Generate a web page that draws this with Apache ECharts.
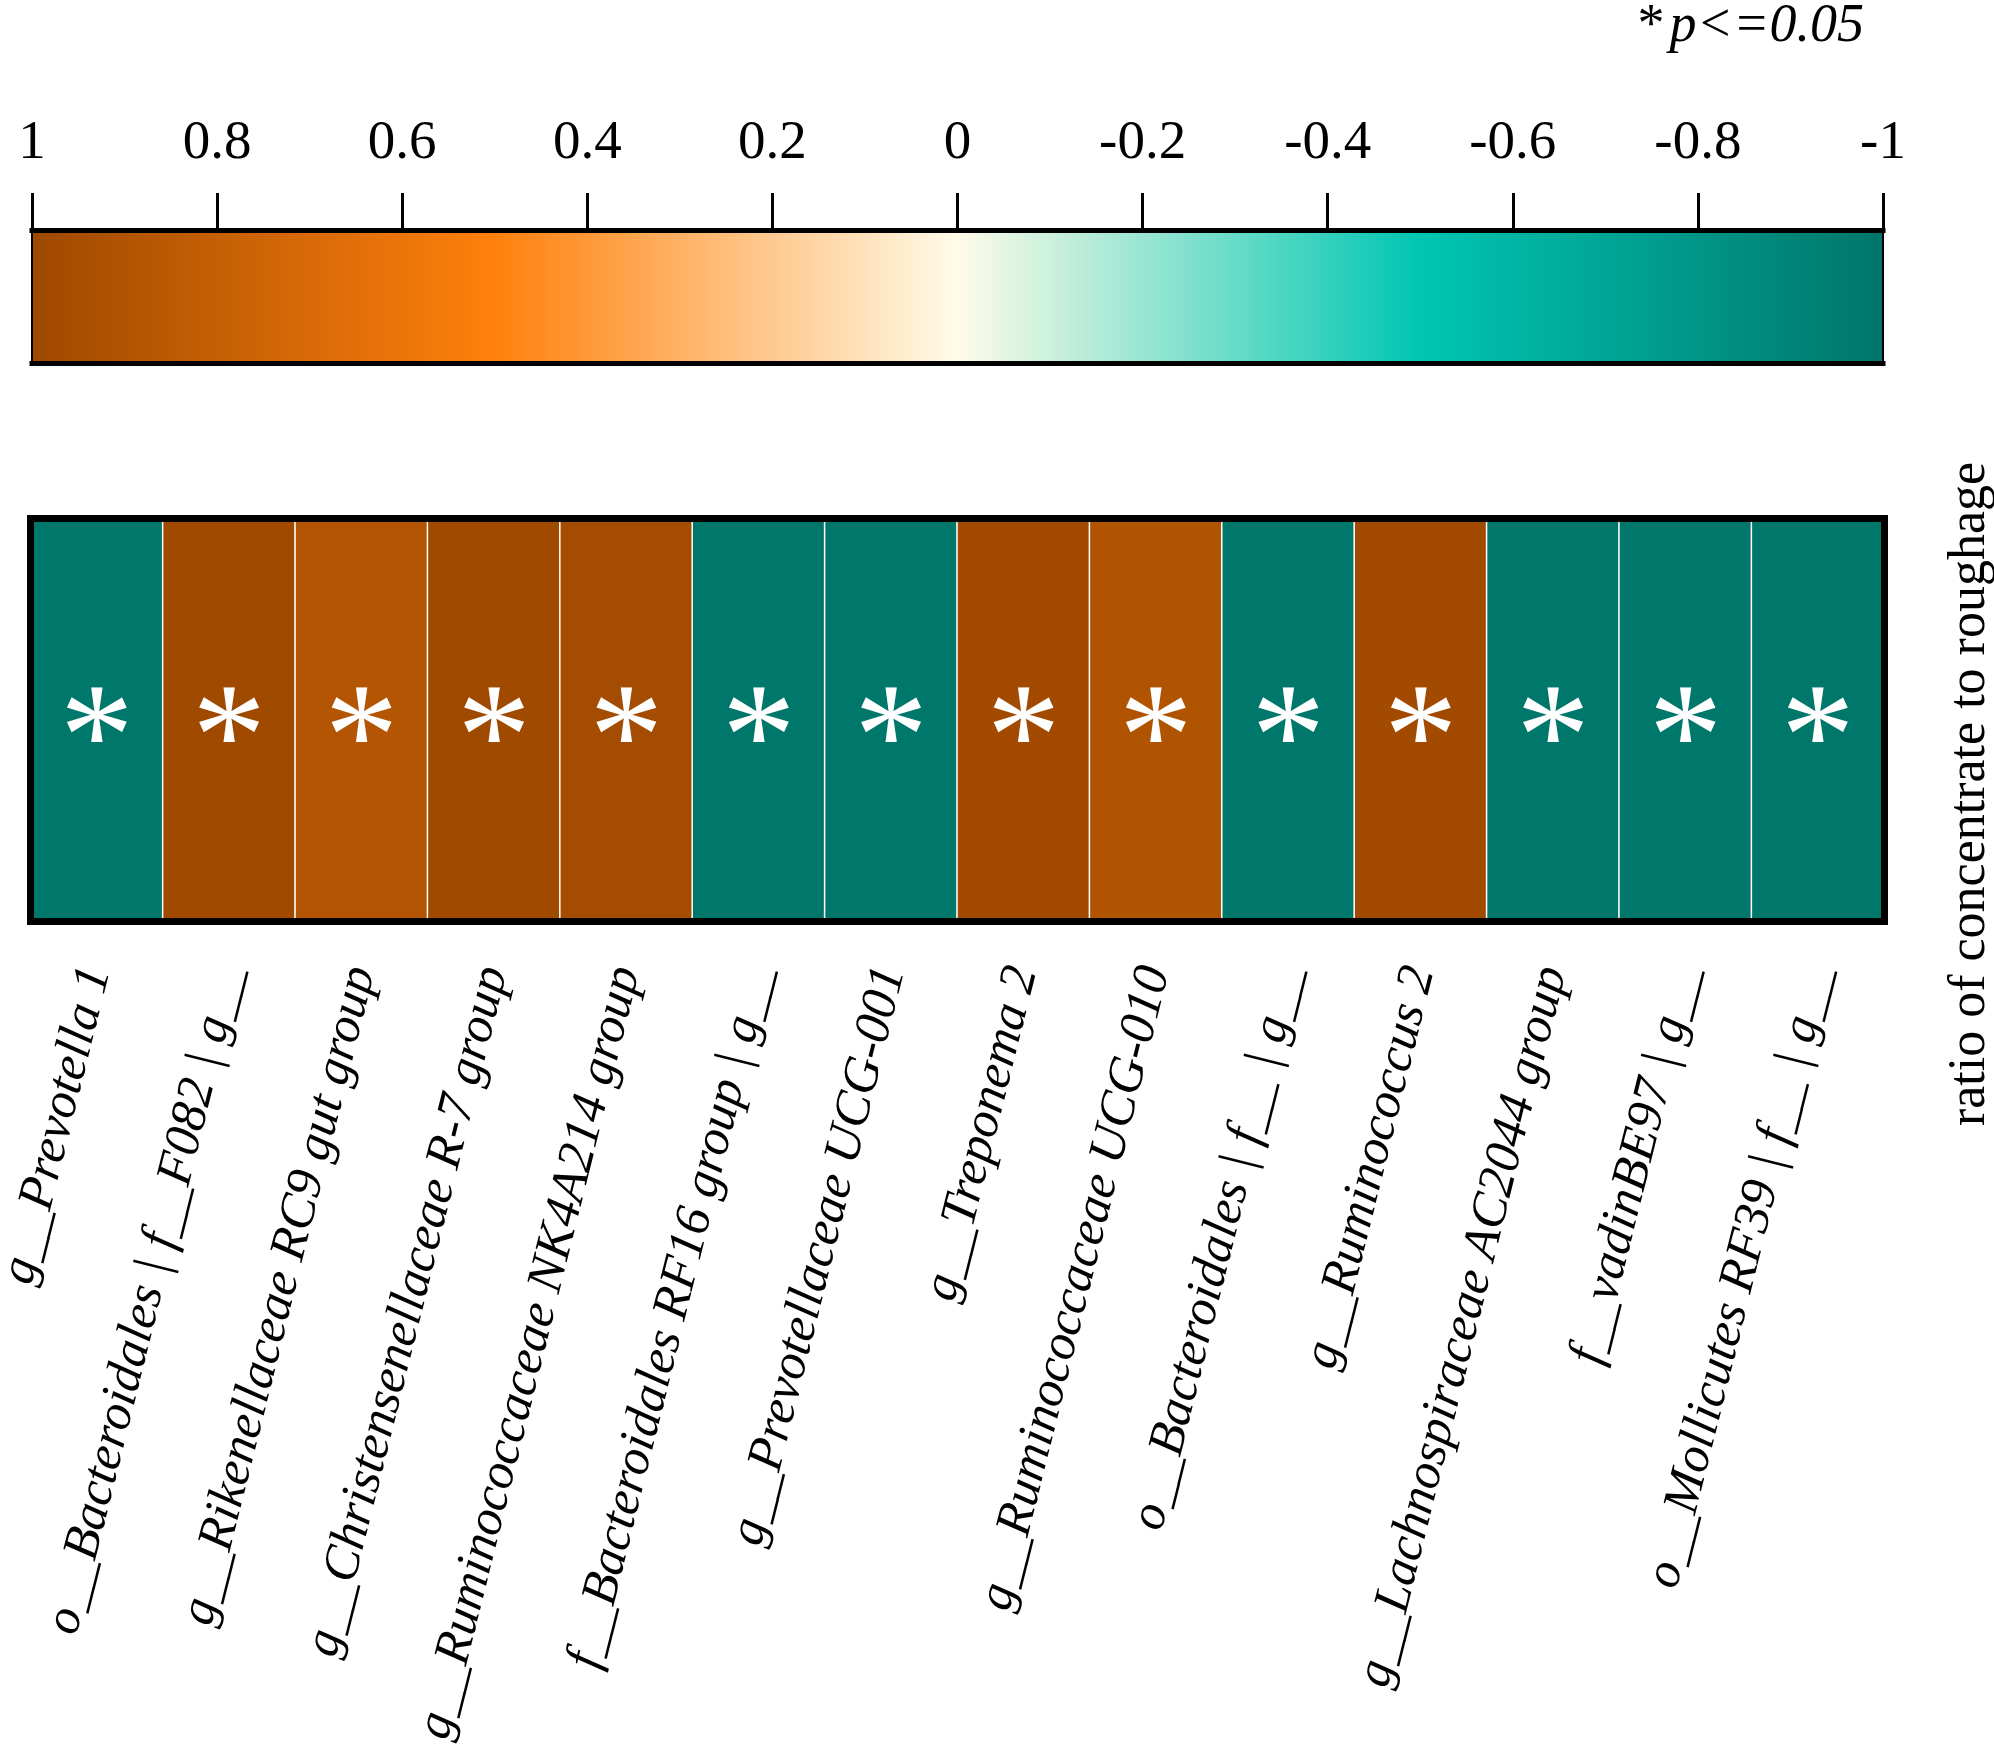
<!DOCTYPE html>
<html>
<head>
<meta charset="utf-8">
<script src="https://cdn.jsdelivr.net/npm/echarts@6/dist/echarts.min.js"></script>
<style>
html,body{margin:0;padding:0;background:#fff;}
#chart{width:1994px;height:1761px;}
</style>
</head>
<body>
<div id="chart"></div>
<script>
// ---- data ----
const categories = [
  'g__Prevotella 1',
  'o__Bacteroidales | f__F082 | g__',
  'g__Rikenellaceae RC9 gut group',
  'g__Christensenellaceae R-7 group',
  'g__Ruminococcaceae NK4A214 group',
  'f__Bacteroidales RF16 group | g__',
  'g__Prevotellaceae UCG-001',
  'g__Treponema 2',
  'g__Ruminococcaceae UCG-010',
  'o__Bacteroidales | f__ | g__',
  'g__Ruminococcus 2',
  'g__Lachnospiraceae AC2044 group',
  'f__vadinBE97 | g__',
  'o__Mollicutes RF39 | f__ | g__'
];
const rowName = ['ratio of concentrate to roughage'];
const ratios = [-0.99, 0.99, 0.89, 0.99, 0.97, -0.99, -0.99, 0.98, 0.9, -0.99, 0.98, -0.99, -0.99, -0.99];
const significant = [true, true, true, true, true, true, true, true, true, true, true, true, true, true];
const scaleValues = [-1, -0.5, 0, 0.5, 1];
const scaleColors = ['#00756a', '#00c6b2', '#fffbe8', '#ff800c', '#9e4900'];
const scaleMin = -1, scaleMax = 1, scaleStep = 0.2;
const noteText = 'p<=0.05';

// ---- chart ----
const chart = echarts.init(document.getElementById('chart'), null, {renderer: 'canvas'});
const serif = 'Liberation Serif';
const heatData = ratios.map((v, i) => [i, 0, v]);
const gradStops = scaleValues.map((v, i) => ({offset: (scaleMax - v) / (scaleMax - scaleMin), color: scaleColors[i]}))
  .sort((a, b) => a.offset - b.offset);

const frameLine = (w) => ({show: true, onZero: false, lineStyle: {color: '#000', width: w, cap: 'square'}});

chart.setOption({
  animation: false,
  backgroundColor: '#fff',
  title: {
    text: '{a|*} {b|' + noteText + '}',
    right: 125, top: -5,
    textStyle: {
      fontWeight: 'normal',
      rich: {
        a: {fontFamily: serif, fontSize: 54, fontWeight: 'normal', color: '#000'},
        b: {fontFamily: serif, fontSize: 54, fontWeight: 'normal', fontStyle: 'italic', color: '#000'}
      }
    }
  },
  grid: [
    {left: 32, top: 230, width: 1851, height: 133, outerBoundsMode: 'none', containLabel: false},
    {left: 30.5, top: 518.5, width: 1853.5, height: 403, outerBoundsMode: 'none', containLabel: false}
  ],
  visualMap: {
    show: false, type: 'continuous', seriesIndex: 1,
    min: scaleMin, max: scaleMax,
    inRange: {color: scaleColors}
  },
  xAxis: [
    {gridIndex: 0, type: 'value', position: 'top', inverse: true, min: scaleMin, max: scaleMax, interval: scaleStep, z: 10,
      axisLine: frameLine(5),
      axisTick: {show: true, inside: false, length: 37, lineStyle: {color: '#000', width: 3}},
      axisLabel: {margin: 59, fontFamily: serif, fontSize: 55, color: '#000'},
      splitLine: {show: false}},
    {gridIndex: 0, type: 'value', position: 'bottom', inverse: true, min: scaleMin, max: scaleMax, z: 10,
      axisLine: frameLine(5), axisTick: {show: false}, axisLabel: {show: false}, splitLine: {show: false}},
    {gridIndex: 1, type: 'category', position: 'bottom', data: categories, z: 10,
      axisLine: frameLine(7), axisTick: {show: false},
      axisLabel: {interval: 0, rotate: 76, margin: 46, fontFamily: serif, fontStyle: 'italic', fontSize: 51, color: '#000'},
      splitLine: {show: false}},
    {gridIndex: 1, type: 'category', position: 'top', data: categories, z: 10,
      axisLine: frameLine(7), axisTick: {show: false}, axisLabel: {show: false}}
  ],
  yAxis: [
    {gridIndex: 0, type: 'value', position: 'left', min: 0, max: 1, z: 10,
      axisLine: frameLine(2), axisTick: {show: false}, axisLabel: {show: false}, splitLine: {show: false}},
    {gridIndex: 0, type: 'value', position: 'right', min: 0, max: 1, z: 10,
      axisLine: frameLine(2), axisTick: {show: false}, axisLabel: {show: false}, splitLine: {show: false}},
    {gridIndex: 1, type: 'category', position: 'left', data: rowName, z: 10,
      axisLine: frameLine(7), axisTick: {show: false}, axisLabel: {show: false}},
    {gridIndex: 1, type: 'category', position: 'right', data: rowName, z: 10,
      axisLine: frameLine(7), axisTick: {show: false}, axisLabel: {show: false},
      name: rowName[0], nameLocation: 'middle', nameRotate: 90, nameGap: 60,
      nameTextStyle: {fontFamily: serif, fontSize: 52, color: '#000', padding: [0, 148, 0, 0]}}
  ],
  series: [
    {
      type: 'custom', xAxisIndex: 0, yAxisIndex: 0, silent: true,
      data: [[scaleMin, 0]],
      renderItem: function (params, api) {
        const p0 = api.coord([scaleMax, 1]);
        const p1 = api.coord([scaleMin, 0]);
        return {
          type: 'rect',
          shape: {x: p0[0], y: p0[1], width: p1[0] - p0[0], height: p1[1] - p0[1]},
          style: {fill: new echarts.graphic.LinearGradient(0, 0, 1, 0, gradStops)}
        };
      }
    },
    {
      type: 'heatmap', xAxisIndex: 2, yAxisIndex: 2,
      data: heatData,
      itemStyle: {borderColor: '#ffffff', borderWidth: 1.5},
      label: {
        show: true,
        formatter: p => significant[p.data[0]] ? '*' : '',
        color: '#ffffff', fontFamily: serif, fontSize: 148, offset: [0, 26]
      }
    }
  ]
});
</script>
</body>
</html>
